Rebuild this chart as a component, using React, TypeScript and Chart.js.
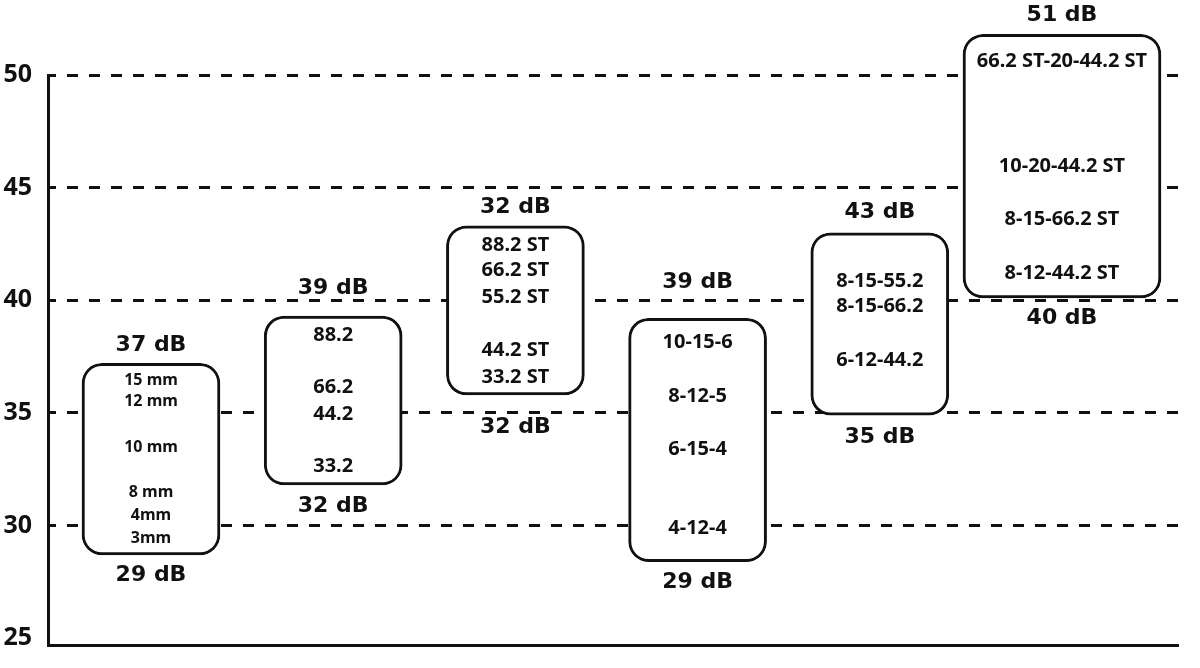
import React, { useEffect, useRef } from 'react';
import { Chart, registerables } from 'chart.js';

Chart.register(...registerables);

// ---- data ----
const categories = ['A', 'B', 'C', 'D', 'E', 'F'];
const yTicks = [25, 30, 35, 40, 45, 50];
const boxLow = [28.7, 31.8, 35.8, 28.4, 34.9, 40.1];
const boxHigh = [37.2, 39.3, 43.3, 39.2, 43.0, 51.8];
const topLabels = ['37 dB', '39 dB', '32 dB', '39 dB', '43 dB', '51 dB'];
const topLabelAt = [38.0, 40.55, 44.15, 40.8, 43.9, 52.65];
const bottomLabels = ['29 dB', '32 dB', '32 dB', '29 dB', '35 dB', '40 dB'];
const bottomLabelAt = [27.8, 30.85, 34.35, 27.5, 33.9, 39.2];
const innerLabels = [
  ['15 mm', '12 mm', '10 mm', '8 mm', '4mm', '3mm'],
  ['88.2', '66.2', '44.2', '33.2'],
  ['88.2 ST', '66.2 ST', '55.2 ST', '44.2 ST', '33.2 ST'],
  ['10-15-6', '8-12-5', '6-15-4', '4-12-4'],
  ['8-15-55.2', '8-15-66.2', '6-12-44.2'],
  ['66.2 ST-20-44.2 ST', '10-20-44.2 ST', '8-15-66.2 ST', '8-12-44.2 ST'],
];
const innerLabelAt = [
  [36.43, 35.5, 33.46, 31.45, 30.43, 29.45],
  [38.46, 36.14, 34.95, 32.61],
  [42.45, 41.31, 40.13, 37.76, 36.58],
  [38.12, 35.75, 33.39, 29.88],
  [40.86, 39.72, 37.32],
  [50.62, 45.96, 43.6, 41.22],
];

const INK = '#111111';

const labelPlugin = {
  id: 'boxLabels',
  afterDatasetsDraw(chart: any) {
    const { ctx } = chart;
    const x = chart.scales.x;
    const y = chart.scales.y;
    ctx.save();
    ctx.fillStyle = INK;
    ctx.textAlign = 'center';
    ctx.textBaseline = 'middle';
    categories.forEach((_, i) => {
      const cx = x.getPixelForValue(i);
      ctx.font = 'bold 22px "DejaVu Sans"';
      ctx.fillText(topLabels[i], cx, y.getPixelForValue(topLabelAt[i]));
      ctx.fillText(bottomLabels[i], cx, y.getPixelForValue(bottomLabelAt[i]));
      ctx.font = i === 0 ? 'bold 16px "Noto Sans"' : 'bold 20px "Noto Sans"';
      innerLabels[i].forEach((t, j) => {
        ctx.fillText(t, cx, y.getPixelForValue(innerLabelAt[i][j]));
      });
    });
    ctx.restore();
  },
};

export default function App() {
  const ref = useRef<HTMLCanvasElement | null>(null);
  useEffect(() => {
    if (!ref.current) return;
    const last = categories.length - 1;
    const mainData = categories
      .map((_, i) => ({ x: i, y: [boxLow[i], boxHigh[i]] }))
      .filter((_, i) => i !== last);
    const wideData = [{ x: last, y: [boxLow[last], boxHigh[last]] }];
    const common = {
      backgroundColor: '#ffffff',
      borderColor: INK,
      borderWidth: 3,
      borderRadius: 20,
      borderSkipped: false,
      grouped: false,
      clip: false as any,
    };
    const chart = new Chart(ref.current, {
      type: 'bar',
      data: {
        datasets: [
          { ...common, data: mainData as any, barThickness: 138 },
          { ...common, data: wideData as any, barThickness: 198 },
        ],
      },
      options: {
        animation: false,
        responsive: false,
        layout: { padding: { left: 0, top: 75, right: 22, bottom: 23 } },
        plugins: { legend: { display: false }, tooltip: { enabled: false } },
        scales: {
          x: {
            type: 'linear',
            offset: false,
            min: -0.5653,
            max: 5.6367,
            ticks: { display: false },
            grid: { display: false },
            border: { display: true, width: 3, color: INK },
            afterFit: (s: any) => {
              s.height = 0;
            },
          },
          y: {
            type: 'linear',
            min: 24.7,
            max: 50,
            afterBuildTicks: (s: any) => {
              s.ticks = yTicks.map((v) => ({ value: v }));
            },
            afterFit: (s: any) => {
              s.width = 48;
            },
            ticks: {
              padding: 16,
              color: INK,
              font: { family: 'Noto Sans', weight: 'bold', size: 25, lineHeight: 0.4 },
            },
            grid: {
              drawTicks: false,
              lineWidth: 3,
              color: (c: any) => (c.tick && c.tick.value === 25 ? 'rgba(0,0,0,0)' : INK),
            },
            border: { display: true, width: 3, color: INK, dash: [11, 11], dashOffset: 5 },
          },
        },
      },
      plugins: [labelPlugin],
    });
    return () => chart.destroy();
  }, []);
  return (
    <div style={{ position: 'absolute', left: 0, top: 0, width: 1200, height: 668, background: '#fff' }}>
      <canvas ref={ref} width={1200} height={668} style={{ display: 'block' }} />
    </div>
  );
}
